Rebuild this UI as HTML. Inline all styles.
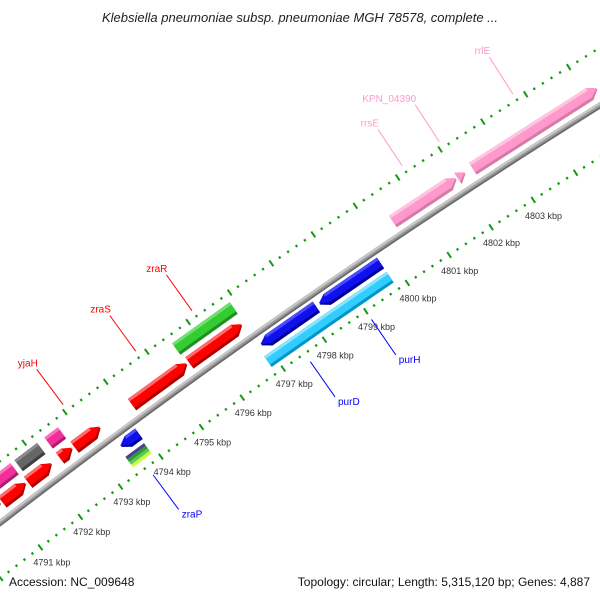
<!DOCTYPE html>
<html><head><meta charset="utf-8"><style>
html,body{margin:0;padding:0;background:#fff;width:600px;height:600px;overflow:hidden;}
svg{display:block;font-family:"Liberation Sans",sans-serif;overflow:hidden;}
</style></head><body>
<svg id="map" width="600" height="600" viewBox="0 0 600 600" xmlns="http://www.w3.org/2000/svg">
<rect width="600" height="600" fill="#fff"/>
<g id="ticks"></g>
<g id="backbone"></g>
<g id="features"></g>
<g id="labels"></g>
<text x="300" y="22" text-anchor="middle" font-size="13" font-style="italic" fill="#222">Klebsiella pneumoniae subsp. pneumoniae MGH 78578, complete ...</text>
<text x="9" y="586" font-size="12" fill="#111">Accession: NC_009648</text>
<text x="590" y="586" text-anchor="end" font-size="12" fill="#111">Topology: circular; Length: 5,315,120 bp; Genes: 4,887</text>
</svg>
<script>
// ---- data ----
const tickKbp = [4791,4792,4793,4794,4795,4796,4797,4798,4799,4800,4801,4802,4803];
const featStart = [4790.0,4790.95,4791.59,4792.38,4792.74,4794.15,4795.55,4800.44,4801.98,4802.33,4790.0,4791.64,4792.38,4795.50,4793.48,4796.91,4798.32,4793.43,4796.83,4798.22];
const featEnd   = [4790.91,4791.54,4792.18,4792.69,4793.38,4795.50,4796.83,4801.95,4802.16,4805.25,4791.54,4792.20,4792.71,4796.89,4793.92,4798.24,4799.78,4793.89,4798.22,4799.78];
const featRow   = ['o1','o1','o1','o1','o1','o1','o1','o1','o1','o1','o2','o2','o2','o2','i1','i1','i1','i2','i2','i2'];
const featDir   = [1,1,1,1,1,1,1,1,1,1,0,0,0,0,-1,-1,-1,0,0,0];
const featColor = ['red','red','red','red','red','red','red','pink','pink','pink','magenta','gray','magenta','green','blue','blue','blue','stripe','cyan','cyan'];
const labelText = ['yjaH','zraS','zraR','rrsE','KPN_04390','rrlE','zraP','purD','purH'];
const labelKbp  = [4793.06,4794.83,4796.19,4801.2,4802.07,4803.79,4793.66,4797.52,4799.0];
const labelSide = ['out','out','out','out','out','out','in','in','in'];
const labelColor= ['#ff0000','#ff0000','#ff0000','#ff99cc','#ff99cc','#ff99cc','#0000ff','#0000ff','#0000ff'];

// ---- scale ----
const CX=4530, CY=6392, R0=7414, K0=4791, A0=-127.53, DA=0.3908;
function pt(k,dr){const a=(A0+(k-K0)*DA)*Math.PI/180;const r=R0+dr;return [CX+r*Math.cos(a),CY+r*Math.sin(a)];}
const NS='http://www.w3.org/2000/svg';
function mk(tag,attrs,parent){const e=document.createElementNS(NS,tag);for(const k in attrs)e.setAttribute(k,attrs[k]);parent.appendChild(e);return e;}
const rows={o1:[8,22],o2:[27,41],i1:[-19,-6],i2:[-36,-23]};
const pal={red:['#ff0000','#ff6a6a','#b00000'],pink:['#ff99cc','#ffc4e0','#d87aa8'],magenta:['#f0309a','#ff70bb','#b01a70'],gray:['#666666','#8a8a8a','#3e3e3e'],green:['#33cc33','#70e070','#1f8f1f'],blue:['#1010ee','#4a4aff','#00009a'],cyan:['#33ccff','#88e4ff','#0096c8']};
function poly(pts){return pts.map(p=>p[0].toFixed(2)+','+p[1].toFixed(2)).join(' ');}

// ---- ticks ----
const gT=document.getElementById('ticks');
[49,-44].forEach(function(rr){
  for(let m=0;m<=80;m++){
    const k=4789.8+m*0.2; const major=Math.abs(k-Math.round(k))<0.01;
    const h=major?3.5:1.2;
    const p1=pt(k,rr-h),p2=pt(k,rr+h);
    if(p1[1]>598||p2[1]>598||p1[0]>602||p2[0]>602) continue;
    const t=mk('line',{x1:p1[0],y1:p1[1],x2:p2[0],y2:p2[1],stroke:'#139a13','stroke-width':major?2:2.2},gT);
    
    
  }
});
tickKbp.forEach(function(k){
  const p=pt(k,-63);
  const t=mk('text',{x:p[0].toFixed(1),y:(p[1]+3).toFixed(1),'text-anchor':'middle','font-size':'9',fill:'#333'},gT);
  t.textContent=k+' kbp';
  
  
});

// ---- backbone ----
const gB=document.getElementById('backbone');
function arcPath(dr){let d='';for(let k=4789.8;k<=4806.3;k+=0.25){const p=pt(k,dr);d+=(d?'L':'M')+p[0].toFixed(2)+','+p[1].toFixed(2);}return d;}
[[0,6,'#9a9a9a'],[1.8,2.4,'#c6c6c6'],[-2.2,1.8,'#6c6c6c']].forEach(function(s){
  const e=mk('path',{d:arcPath(s[0]),fill:'none',stroke:s[2],'stroke-width':s[1]},gB);
  
  
});

// ---- features ----
const gF=document.getElementById('features');
const AH=0.18;
function shape(k1,k2,r1,r2,dir){
  const a=Math.min(AH,k2-k1), rm=(r1+r2)/2;
  if(dir===1) return [pt(k1,r2),pt(k2-a,r2),pt(k2,rm),pt(k2-a,r1),pt(k1,r1)];
  if(dir===-1) return [pt(k1,rm),pt(k1+a,r2),pt(k2,r2),pt(k2,r1),pt(k1+a,r1)];
  return [pt(k1,r2),pt(k2,r2),pt(k2,r1),pt(k1,r1)];
}
featStart.forEach(function(k1,i){
  const k2=featEnd[i], row=rows[featRow[i]], dir=featDir[i], col=featColor[i];
  const g=mk('g',{},gF);
  
  
  const r1=row[0], r2=row[1];
  if(col==='stripe'){
    const cs=['#45458f','#2f9a2f','#55cc55','#ccff33'];
    const w=(r2-r1)/4;
    cs.forEach(function(c,j){mk('polygon',{points:poly(shape(k1,k2,r2-w*(j+1),r2-w*j,0)),fill:c},g);});
    return;
  }
  const p=pal[col];
  mk('polygon',{points:poly(shape(k1,k2,r1,r2,dir)),fill:p[2]},g);
  mk('polygon',{points:poly(shape(k1,k2,r1+3,r2,dir)),fill:p[0]},g);
  const a=Math.min(AH,k2-k1);
  const ks=dir===-1?k1+a:k1, ke=dir===1?k2-a:k2;
  if(ke>ks) mk('polygon',{points:poly([pt(ks,r2),pt(ke,r2),pt(ke,r2-3),pt(ks,r2-3)]),fill:p[1]},g);
});

// ---- labels ----
const gL=document.getElementById('labels');
labelText.forEach(function(txt,i){
  const out=labelSide[i]==='out';
  const a=pt(labelKbp[i],out?56:-54), b=pt(labelKbp[i],out?100:-97);
  const l=mk('line',{x1:a[0],y1:a[1],x2:b[0],y2:b[1],stroke:labelColor[i],'stroke-width':1},gL);
  
  
  const t=out?mk('text',{x:(b[0]+1).toFixed(1),y:(b[1]-3).toFixed(1),'text-anchor':'end','font-size':'10',fill:labelColor[i]},gL)
             :mk('text',{x:(b[0]+3).toFixed(1),y:(b[1]+8).toFixed(1),'text-anchor':'start','font-size':'10',fill:labelColor[i]},gL);
  t.textContent=txt;
  
  
});
</script>
</body></html>
